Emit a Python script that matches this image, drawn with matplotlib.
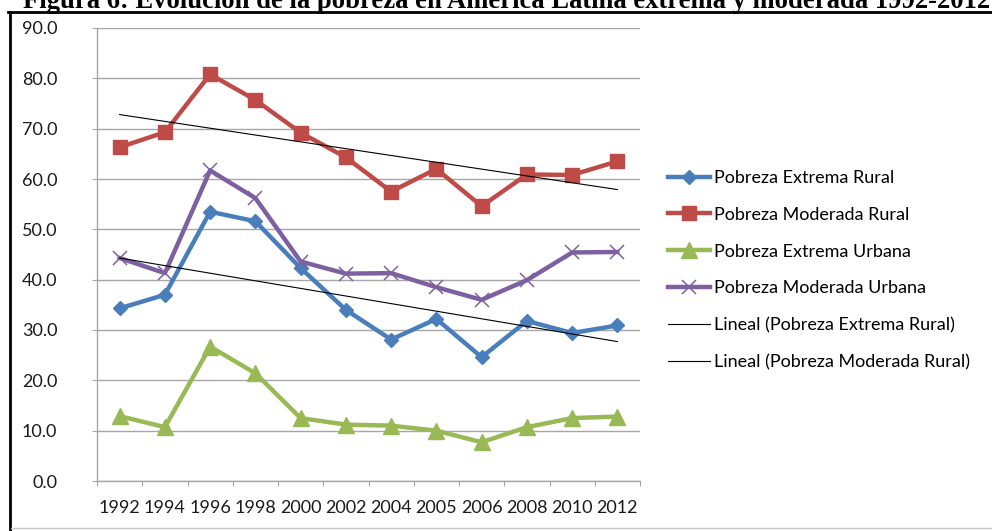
import numpy as np
import matplotlib
matplotlib.use('Agg')
import matplotlib.pyplot as plt
from matplotlib.lines import Line2D

# data
years = ['1992', '1994', '1996', '1998', '2000', '2002', '2004', '2005', '2006', '2008', '2010', '2012']
ext_rural = [34.3, 37.0, 53.5, 51.6, 42.3, 34.0, 28.1, 32.2, 24.6, 31.8, 29.4, 30.9]
mod_rural = [66.3, 69.3, 80.8, 75.7, 69.2, 64.3, 57.5, 62.0, 54.6, 60.9, 60.8, 63.5]
ext_urbana = [12.9, 10.7, 26.7, 21.4, 12.5, 11.2, 11.0, 10.0, 7.7, 10.7, 12.5, 12.8]
mod_urbana = [44.3, 41.3, 61.7, 56.2, 43.6, 41.2, 41.3, 38.5, 36.0, 39.9, 45.4, 45.5]
# trendlines (first and last category)
trend_ext_rural = [44.3, 27.7]
trend_mod_rural = [72.8, 57.9]

W, H = 992, 531
fig = plt.figure(figsize=(W / 100, H / 100), dpi=100)
plt.rcParams['font.family'] = ['Lato', 'DejaVu Sans']

ax = fig.add_axes([97 / W, 1 - 481 / H, (640 - 97) / W, (481 - 28) / H])
x = np.arange(len(years))

grid_c = '#a6a6a6'
ax.plot(x, ext_rural, color='#4a7ebb', lw=3.2, marker='D', ms=7,
        label='Pobreza Extrema Rural', zorder=3)
ax.plot(x, mod_rural, color='#be4b48', lw=3.2, marker='s', ms=9.8,
        label='Pobreza Moderada Rural', zorder=3)
ax.plot(x, ext_urbana, color='#98b954', lw=3.2, marker='^', ms=11,
        label='Pobreza Extrema Urbana', zorder=3)
ax.plot(x, mod_urbana, color='#7d60a0', lw=3.2, marker='x', ms=10.5, mew=1.1,
        label='Pobreza Moderada Urbana', zorder=3)
ax.plot([x[0], x[-1]], trend_ext_rural, color='black', lw=0.8,
        label='Lineal (Pobreza Extrema Rural)', zorder=4)
ax.plot([x[0], x[-1]], trend_mod_rural, color='black', lw=0.8,
        label='Lineal (Pobreza Moderada Rural)', zorder=4)

ax.set_xlim(-0.5, len(years) - 0.5)
ax.set_ylim(0, 90)
ax.set_yticks(np.arange(0, 91, 10))
ax.set_yticklabels([f'{v:.1f}' for v in np.arange(0, 91, 10)])
ax.set_xticks(x)
ax.set_xticklabels(years)
ax.set_xticks(np.arange(-0.5, len(years), 1), minor=True)
ax.grid(axis='y', color=grid_c, lw=1.0, zorder=0)
ax.set_axisbelow(True)

for s in ['top', 'right']:
    ax.spines[s].set_visible(False)
for s in ['left', 'bottom']:
    ax.spines[s].set_color(grid_c)
    ax.spines[s].set_linewidth(1.0)

ax.tick_params(axis='y', length=3.6, width=0.8, color=grid_c, pad=25,
               labelsize=13, labelcolor='#1a1a1a')
ax.tick_params(axis='x', which='major', length=0, pad=14,
               labelsize=13, labelcolor='#1a1a1a')
ax.tick_params(axis='x', which='minor', length=3.6, width=0.8, color=grid_c)

ax.legend(loc='upper left', bbox_to_anchor=(668 / W, 1 - 170 / H),
          bbox_transform=fig.transFigure, frameon=False, fontsize=13,
          borderpad=0, borderaxespad=0, handlelength=2.3, handletextpad=0.25,
          labelspacing=1.15)

# title (cut off at top of the image)
fig.text(23 / W, 1 - 7.5 / H,
         'Figura 6: Evolución de la pobreza en América Latina extrema y moderada 1992-2012',
         family='Liberation Serif', weight='bold', fontsize=19.2, va='baseline', ha='left')

# frame around the chart
fig.add_artist(Line2D([8 / W, 1], [1 - 11.5 / H, 1 - 11.5 / H], color='black', lw=2.0,
                      transform=fig.transFigure))
fig.add_artist(Line2D([9.5 / W, 9.5 / W], [0, 1 - 11.5 / H], color='black', lw=2.0,
                      transform=fig.transFigure))
fig.add_artist(Line2D([11 / W, 1], [1 - 528 / H, 1 - 528 / H], color='#c8c8c8', lw=1.0,
                      transform=fig.transFigure))

fig.savefig('out.png', dpi=100)
